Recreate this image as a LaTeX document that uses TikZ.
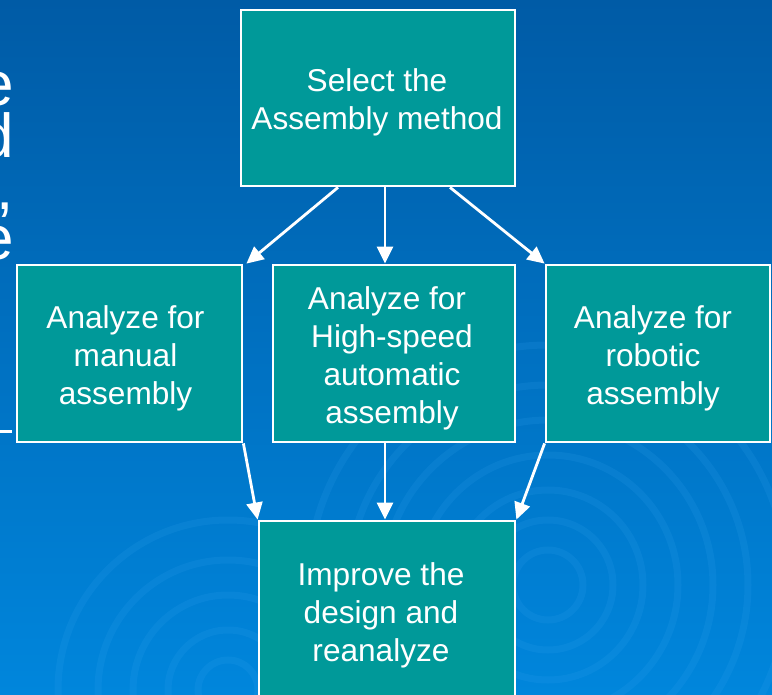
\documentclass[tikz,border=0pt]{standalone}
\usepackage{fontspec}
\setmainfont{Liberation Sans}
\usetikzlibrary{arrows.meta}
\definecolor{bgtop}{HTML}{005BA6}
\definecolor{bgbot}{HTML}{0086DC}
\definecolor{teal}{HTML}{009999}
\definecolor{ripple}{HTML}{3AA6F0}
\begin{document}
\begin{tikzpicture}[x=1pt,y=-1pt,
  box/.style={draw=white,line width=2.8pt,fill=teal,inner sep=0pt},
  lbl/.style={text=white,align=center,inner sep=0pt,font=\fontsize{31.6}{38}\selectfont},
  conn/.style={white,line width=2.8pt,-{Triangle[length=17pt,width=16pt]}},
  frag/.style={text=white,inner sep=0pt,anchor=base east,font=\fontsize{62}{62}\selectfont},
  rip/.style={ripple,opacity=0.15,line width=7pt}]
\useasboundingbox (0,0) rectangle (772,695);
\clip (0,0) rectangle (772,695);
\shade[top color=bgtop,bottom color=bgbot] (0,0) rectangle (772,695);
% ripples
\foreach \r in {35,65,95,130,165,200,240}{
  \draw[rip] (548,585) circle[radius=\r];}
\foreach \r in {30,60,95,130,170}{
  \draw[rip] (228,690) circle[radius=\r];}
% left edge fragments
\node[frag] (f1) at (14,106) {e};
\node[frag] (f2) at (14,158) {d};
\node[frag] (f3) at (14,210) {,};
\node[frag] (f4) at (14,260) {e};
\draw[white,line width=3.5pt] (0,431.5) -- (12,431.5);
% boxes
\node[box,minimum width=274pt,minimum height=176pt] (top) at (378,98) {};
\node[box,minimum width=225pt,minimum height=177pt] (left) at (129.5,353.5) {};
\node[box,minimum width=242pt,minimum height=177pt] (mid) at (394,353.5) {};
\node[box,minimum width=224pt,minimum height=177pt] (right) at (658,353.5) {};
\node[box,minimum width=256pt,minimum height=186pt] (bot) at (387,614) {};
% texts
\node[lbl] (topt) at (377,102.5) {Select the\\Assembly method};
\node[lbl] (leftt) at (125.5,358.5) {Analyze for\\manual\\assembly};
\node[lbl] (midt) at (392,358.5) {\hspace*{-10pt}Analyze for\\High-speed\\automatic\\assembly};
\node[lbl] (rightt) at (653,358.5) {Analyze for\\robotic\\assembly};
\node[lbl] (bott) at (381,615) {Improve the\\design and\\reanalyze};
% connectors
\draw[conn] ([xshift=-40pt]top.south) -- ([xshift=3pt]left.north east);
\draw[conn] ([xshift=7pt]top.south) -- ([xshift=-9pt]mid.north);
\draw[conn] ([xshift=72pt]top.south) -- (right.north west);
\draw[conn] (left.south east) -- (bot.north west);
\draw[conn] ([xshift=-9pt]mid.south) -- ([xshift=-2pt]bot.north);
\draw[conn] (right.south west) -- (bot.north east);
\end{tikzpicture}
\end{document}
